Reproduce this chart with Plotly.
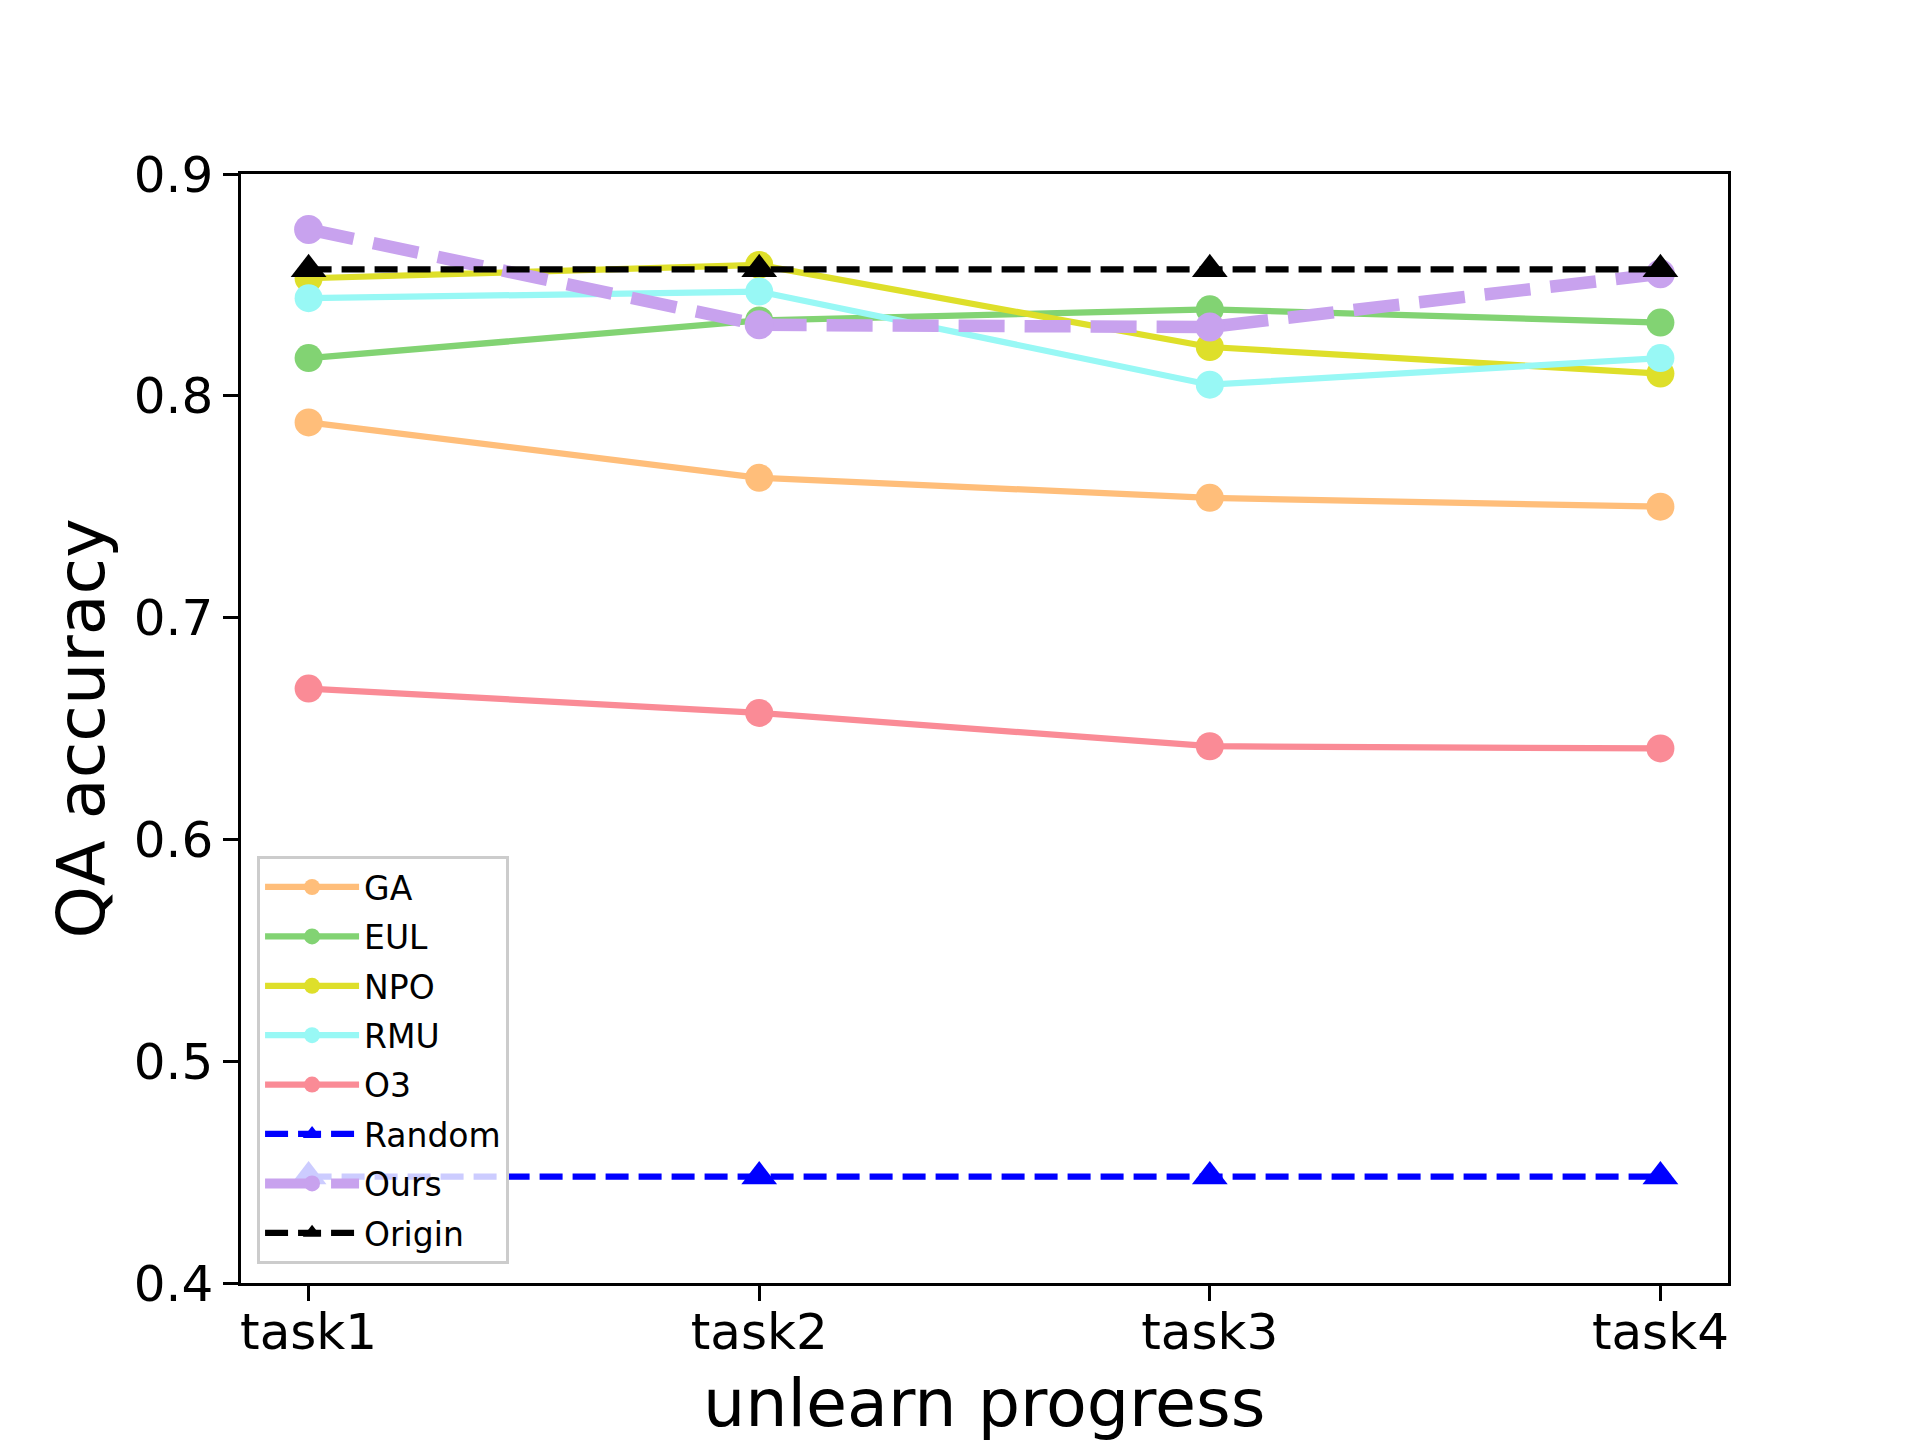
import plotly.graph_objects as go

tasks = ["task1", "task2", "task3", "task4"]
x_idx = [0, 1, 2, 3]

ga = [0.788, 0.763, 0.754, 0.750]
eul = [0.817, 0.834, 0.839, 0.833]
npo = [0.853, 0.859, 0.822, 0.810]
rmu = [0.844, 0.847, 0.805, 0.817]
o3 = [0.668, 0.657, 0.642, 0.641]
random_ = [0.448, 0.448, 0.448, 0.448]
ours = [0.875, 0.832, 0.831, 0.855]
origin = [0.857, 0.857, 0.857, 0.857]

yticks = [0.4, 0.5, 0.6, 0.7, 0.8, 0.9]
ytick_text = ["0.4", "0.5", "0.6", "0.7", "0.8", "0.9"]

FONT = "DejaVu Sans"

series = [
    ("GA", ga, "#FFBE7A", "circle", "solid", 6.25, 28),
    ("EUL", eul, "#82D373", "circle", "solid", 6.25, 28),
    ("NPO", npo, "#DEDF2A", "circle", "solid", 6.25, 28),
    ("RMU", rmu, "#98F8F5", "circle", "solid", 6.25, 28),
    ("O3", o3, "#FA8B96", "circle", "solid", 6.25, 28),
    ("Random", random_, "#0000FF", "triangle-up", "23px,10px", 6.25, 31),
    ("Ours", ours, "#C8A2EE", "circle", "46px,20px", 12.5, 29),
    ("Origin", origin, "#000000", "triangle-up", "23px,10px", 6.25, 31),
]

fig = go.Figure()
for i, (name, vals, color, sym, dash, lw, ms) in enumerate(series):
    fig.add_trace(go.Scatter(
        x=x_idx, y=vals, name=name, mode="lines+markers",
        line=dict(color=color, width=lw, dash=dash),
        marker=dict(color=color, symbol=sym, size=ms, line=dict(width=0)),
        legendgroup=f"g{i}",
    ))

axis_common = dict(
    showline=True, linecolor="black", linewidth=3.3, mirror=True,
    ticks="outside", ticklen=14.6, tickwidth=3.3, tickcolor="black",
    showgrid=False, zeroline=False,
    tickfont=dict(family=FONT, size=50, color="black"),
)

fig.update_xaxes(range=[-0.15, 3.15], tickvals=x_idx, ticktext=tasks,
                 ticklabelstandoff=-12, **axis_common)
fig.update_yaxes(range=[0.4, 0.9], tickvals=yticks, ticktext=ytick_text, **axis_common)

fig.update_layout(
    width=1920, height=1440,
    margin=dict(l=233, r=200, t=166, b=165, autoexpand=False),
    paper_bgcolor="white", plot_bgcolor="white",
    font=dict(family=FONT, color="black"),
    showlegend=True,
    legend=dict(
        x=0.0108, y=0.0171, xanchor="left", yanchor="bottom",
        bgcolor="rgba(255,255,255,0.8)", bordercolor="#cccccc", borderwidth=3,
        font=dict(family=FONT, size=33, color="black"),
        tracegroupgap=3.5, itemwidth=94, traceorder="grouped",
    ),
    annotations=[
        dict(text="QA accuracy", xref="paper", yref="paper", x=0, y=0.5,
             xanchor="center", yanchor="middle", textangle=-90, showarrow=False,
             xshift=-161, font=dict(family=FONT, size=66.7, color="black")),
        dict(text="unlearn progress", xref="paper", yref="paper", x=0.5, y=0,
             xanchor="center", yanchor="middle", showarrow=False,
             yshift=-120, font=dict(family=FONT, size=66.7, color="black")),
    ],
)

fig.write_html("out.html")
